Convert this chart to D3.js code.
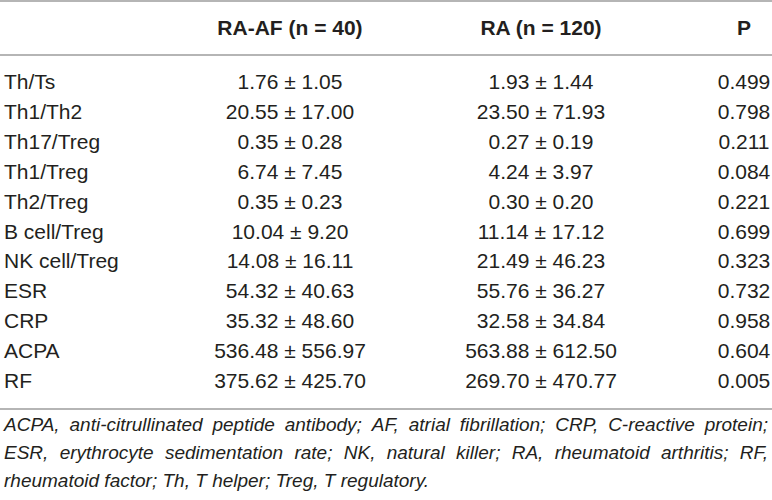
<!DOCTYPE html>
<html>
<head>
<meta charset="utf-8">
<script src="https://cdn.jsdelivr.net/npm/d3@7"></script>
<style>
  body { margin: 0; background: #fff; }
  svg { display: block; }
</style>
</head>
<body>
<div id="app"></div>
<script>
// table data
const headers = ['', 'RA-AF (n = 40)', 'RA (n = 120)', 'P']
const rowLabels = ['Th/Ts', 'Th1/Th2', 'Th17/Treg', 'Th1/Treg', 'Th2/Treg', 'B cell/Treg',
  'NK cell/Treg', 'ESR', 'CRP', 'ACPA', 'RF']
const raAf = ['1.76 ± 1.05', '20.55 ± 17.00', '0.35 ± 0.28', '6.74 ± 7.45', '0.35 ± 0.23',
  '10.04 ± 9.20', '14.08 ± 16.11', '54.32 ± 40.63', '35.32 ± 48.60', '536.48 ± 556.97', '375.62 ± 425.70']
const ra = ['1.93 ± 1.44', '23.50 ± 71.93', '0.27 ± 0.19', '4.24 ± 3.97', '0.30 ± 0.20',
  '11.14 ± 17.12', '21.49 ± 46.23', '55.76 ± 36.27', '32.58 ± 34.84', '563.88 ± 612.50', '269.70 ± 470.77']
const pValues = ['0.499', '0.798', '0.211', '0.084', '0.221', '0.699', '0.323', '0.732', '0.958', '0.604', '0.005']
const footLines = [
  'ACPA, anti-citrullinated peptide antibody; AF, atrial fibrillation; CRP, C-reactive protein;',
  'ESR, erythrocyte sedimentation rate; NK, natural killer; RA, rheumatoid arthritis; RF,',
  'rheumatoid factor; Th, T helper; Treg, T regulatory.'
]

const W = 772, H = 500
const font = '"Liberation Sans", Arial, Helvetica, sans-serif'
const ink = '#231f20'

const svg = d3.select('#app').append('svg')
  .attr('width', W).attr('height', H)
  .attr('viewBox', [0, 0, W, H])
  .style('font-family', font)

// column positions (label column left, others centered)
const x = d3.scaleOrdinal().domain(headers).range([4, 290, 541, 744])
const anchor = d3.scaleOrdinal().domain(headers).range(['start', 'middle', 'middle', 'middle'])

// row baselines
const y = d3.scalePoint().domain(rowLabels).range([89, 388])

// horizontal rules
const rules = [1, 55, 409]
svg.selectAll('line.rule').data(rules).join('line')
  .attr('class', 'rule')
  .attr('x1', 0).attr('x2', W)
  .attr('y1', d => d).attr('y2', d => d)
  .attr('stroke', '#9d9d9d').attr('stroke-width', 1.6)

// header
svg.append('g').selectAll('text').data(headers).join('text')
  .attr('x', d => x(d)).attr('y', 35)
  .attr('text-anchor', d => anchor(d))
  .attr('font-size', 21).attr('font-weight', 'bold').attr('fill', ink)
  .text(d => d)

// body rows
const rows = rowLabels.map((label, i) => [label, raAf[i], ra[i], pValues[i]])
const rowG = svg.append('g').selectAll('g').data(rows).join('g')
  .attr('transform', d => `translate(0,${y(d[0])})`)

rowG.selectAll('text').data(d => d.map((v, j) => ({ v, col: headers[j] }))).join('text')
  .attr('x', d => x(d.col))
  .attr('text-anchor', d => anchor(d.col))
  .attr('font-size', 21).attr('fill', ink)
  .text(d => d.v)

// footnote, justified by spreading word gaps
const footY = d3.scalePoint().domain(d3.range(footLines.length)).range([431, 487])
const left = 4, right = 768
footLines.forEach((line, i) => {
  const words = line.split(' ')
  const g = svg.append('g').attr('transform', `translate(0,${footY(i)})`)
  const texts = g.selectAll('text').data(words).join('text')
    .attr('font-size', 19).attr('font-style', 'italic').attr('fill', ink)
    .text(d => d)
  const widths = []
  texts.each(function () { widths.push(this.getComputedTextLength()) })
  const total = d3.sum(widths)
  const last = i === footLines.length - 1
  const gap = last ? 5.3 : (right - left - total) / (words.length - 1)
  let cx = left
  texts.attr('x', (d, k) => {
    const pos = cx
    cx += widths[k] + gap
    return pos
  })
})
</script>
</body>
</html>
